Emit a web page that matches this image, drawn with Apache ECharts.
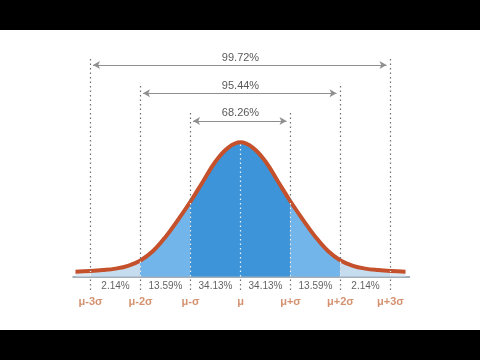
<!DOCTYPE html>
<html>
<head>
<meta charset="utf-8">
<script src="https://cdn.jsdelivr.net/npm/echarts@6/dist/echarts.min.js"></script>
<style>
html,body{margin:0;padding:0;background:#fff;}
#c{width:480px;height:360px;}
</style>
</head>
<body>
<div id="c"></div>
<script>
// curve samples (x in sigma units, height with peak = 100)
const zValues = [-3.3,-3,-2.75,-2.5,-2.25,-2,-1.75,-1.5,-1.25,-1,-0.75,-0.5,-0.25,0,0.25,0.5,0.75,1,1.25,1.5,1.75,2,2.25,2.5,2.75,3,3.3];
const density = [3.6,4.1,4.8,5.9,8.0,12.0,19.0,29.5,42.2,55.9,70.8,85.7,95.9,100,95.9,85.7,70.8,55.9,42.2,29.5,19.0,12.0,8.0,5.9,4.8,4.1,3.6];
// boundaries
const bounds = [-3,-2,-1,0,1,2,3];
const sigmaLabels = ['μ-3σ','μ-2σ','μ-σ','μ','μ+σ','μ+2σ','μ+3σ'];
const bandCenters = [-2.5,-1.5,-0.5,0.5,1.5,2.5];
const bandPercents = ['2.14%','13.59%','34.13%','34.13%','13.59%','2.14%'];
const rangeHalf = [3,2,1];
const rangeLabels = ['99.72%','95.44%','68.26%'];

// layout constants (in axis units)
const rangeArrowY = [157.6,136.5,115.9];
const rangeTextY = [162.6,142.2,121.6];
const guideTop = {3:163.8,2:142.7,1:122.8};
const guideBottom = -10;
const pctY = -7.6;
const sigY = -18.8;

const curve = zValues.map((z,i)=>[z,density[i]]);
function heightAt(z){ const i = zValues.indexOf(z); return density[i]; }

const grayLines = bounds.filter(b=>b!==0).map(b=>[{coord:[b,guideBottom]},{coord:[b,guideTop[Math.abs(b)]]}]);
grayLines.push([{coord:[0,guideBottom]},{coord:[0,0]}]);
const whiteLines = bounds.map(b=>[{coord:[b,0]},{coord:[b,heightAt(b)]}]);
const arrows = rangeHalf.map((h,i)=>[{coord:[-(h-0.05),rangeArrowY[i]]},{coord:[h-0.08,rangeArrowY[i]]}]);

const font = "'Liberation Sans', Arial, sans-serif";

const chart = echarts.init(document.getElementById('c'));
chart.setOption({
  animation:false,
  backgroundColor:'#fff',
  graphic:[
    {type:'rect',shape:{x:0,y:0,width:480,height:30},style:{fill:'#000'},z:100},
    {type:'rect',shape:{x:0,y:330,width:480,height:30},style:{fill:'#000'},z:100}
  ],
  grid:{left:73,right:70.5,top:8.1,bottom:29.8},
  xAxis:{type:'value',min:-3.35,max:3.38,
    axisLine:{show:true,onZero:true,lineStyle:{color:'#8494a2',width:1.5}},
    axisTick:{show:false},axisLabel:{show:false},splitLine:{show:false}},
  yAxis:{type:'value',min:-40,max:200,show:false,splitLine:{show:false}},
  visualMap:{type:'piecewise',show:false,dimension:0,seriesIndex:1,
    pieces:[
      {lt:-3,color:'#dde9f4'},
      {gte:-3,lt:-2,color:'#c6ddf0'},
      {gte:-2,lt:-1,color:'#72b5ea'},
      {gte:-1,lte:1,color:'#3e94d8'},
      {gt:1,lte:2,color:'#72b5ea'},
      {gt:2,lte:3,color:'#c6ddf0'},
      {gt:3,color:'#dde9f4'}
    ]},
  series:[
    {type:'line',data:[],z:1,silent:true,
      markLine:{silent:true,symbol:'none',label:{show:false},
        lineStyle:{type:[1.5,3],color:'#6f6f6f',width:1.2},data:grayLines}},
    {type:'line',data:curve,smooth:0.4,z:2,silent:true,showSymbol:false,
      lineStyle:{width:0},areaStyle:{opacity:1}},
    {type:'line',data:[],z:3,silent:true,
      markLine:{silent:true,symbol:'none',label:{show:false},
        lineStyle:{type:[1.5,3],color:'rgba(255,255,255,0.9)',width:1.2},data:whiteLines}},
    {type:'line',data:curve,smooth:0.4,z:4,silent:true,showSymbol:false,
      lineStyle:{width:4,color:'#c4512c'},itemStyle:{color:'#c4512c'}},
    {type:'line',data:[],z:5,silent:true,
      markLine:{silent:true,symbol:['arrow','arrow'],symbolSize:[6,7],label:{show:false},
        lineStyle:{type:'solid',color:'#8f8f8f',width:1},data:arrows}},
    {type:'scatter',z:6,silent:true,symbolSize:1,itemStyle:{color:'rgba(0,0,0,0)'},
      label:{show:true,position:'inside',color:'#2e2e2e',fontSize:11,fontFamily:font,formatter:p=>p.data.t},
      data:rangeLabels.map((t,i)=>({value:[0,rangeTextY[i]],t:t}))},
    {type:'scatter',z:6,silent:true,symbolSize:1,itemStyle:{color:'rgba(0,0,0,0)'},
      label:{show:true,position:'inside',color:'#3a3a3a',fontSize:10,fontFamily:font,formatter:p=>p.data.t},
      data:bandPercents.map((t,i)=>({value:[bandCenters[i],pctY],t:t}))},
    {type:'scatter',z:6,silent:true,symbolSize:1,itemStyle:{color:'rgba(0,0,0,0)'},
      label:{show:true,position:'inside',color:'#c9774c',fontSize:11,fontWeight:'bold',fontFamily:font,formatter:p=>p.data.t},
      data:sigmaLabels.map((t,i)=>({value:[bounds[i],sigY],t:t}))}
  ]
});
</script>
</body>
</html>
